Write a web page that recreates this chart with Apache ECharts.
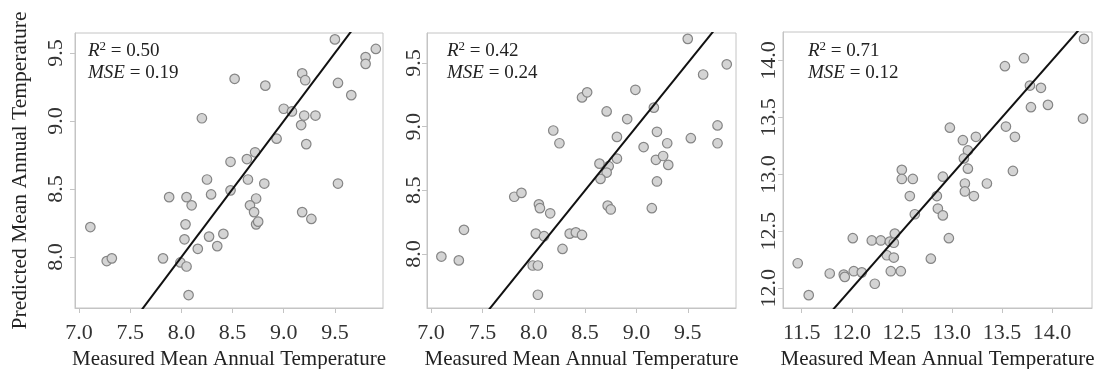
<!DOCTYPE html>
<html>
<head>
<meta charset="utf-8">
<script src="https://cdn.jsdelivr.net/npm/echarts@6/dist/echarts.min.js"></script>
<style>
html,body{margin:0;padding:0;background:#fff;}
#c{width:1097px;height:369px;}
</style>
</head>
<body>
<div id="c"></div>
<script>
// ---------- data ----------
const measured1 = [9.50,9.80,9.80,9.90,8.52,8.82,9.18,9.21,9.53,9.66,9.00,9.08,8.20,9.20,9.31,9.17,8.93,9.22,8.48,8.64,8.72,8.25,8.65,8.81,9.53,8.48,7.88,8.05,8.29,8.73,8.10,8.67,8.71,9.18,9.27,7.11,8.04,8.73,8.75,8.41,8.03,8.27,8.16,8.35,7.82,7.27,7.32,7.99,8.05,8.07];
const predicted1 = [9.60,9.47,9.42,9.53,9.31,9.26,9.35,9.30,9.28,9.19,9.09,9.07,9.02,9.04,9.04,8.97,8.87,8.83,8.70,8.72,8.77,8.57,8.57,8.54,8.54,8.49,8.44,8.44,8.46,8.43,8.38,8.38,8.33,8.33,8.28,8.22,8.24,8.24,8.26,8.17,8.13,8.15,8.06,8.08,7.99,7.97,7.99,7.96,7.93,7.72];

const measured2 = [9.50,9.65,9.88,8.47,8.52,8.99,8.71,9.17,8.91,8.19,8.25,8.81,9.20,9.53,9.79,9.79,9.30,9.07,8.64,8.73,8.81,9.19,9.26,9.31,8.71,8.65,9.20,9.15,7.81,7.88,8.05,8.06,8.16,8.72,8.75,7.32,8.02,8.10,8.35,8.41,8.47,8.28,7.10,7.27,7.99,8.04,8.04];
const predicted2 = [9.69,9.41,9.49,9.23,9.27,9.29,9.12,9.15,9.06,8.97,8.87,8.92,8.96,8.91,9.01,8.87,8.87,8.84,8.71,8.69,8.75,8.74,8.77,8.70,8.64,8.59,8.57,8.36,8.45,8.48,8.39,8.36,8.32,8.38,8.35,8.19,8.16,8.14,8.16,8.17,8.15,8.04,7.98,7.95,7.91,7.91,7.68];

const measured3 = [14.32,13.72,13.53,13.78,13.89,13.79,13.96,14.31,12.98,13.54,13.63,13.11,13.24,13.16,13.12,13.16,13.61,12.91,13.13,13.13,13.22,13.35,12.85,12.58,12.50,12.50,12.61,12.63,12.86,12.91,12.01,12.20,12.29,12.38,12.43,12.42,12.97,12.35,12.42,12.79,11.46,11.78,11.92,11.93,12.02,12.10,12.39,12.49,12.23,11.57];
const predicted3 = [14.19,14.02,13.95,13.78,13.76,13.59,13.61,13.49,13.41,13.42,13.33,13.30,13.33,13.21,13.14,13.05,13.03,12.98,12.92,12.85,12.81,12.92,12.81,12.81,13.04,12.96,12.96,12.65,12.70,12.64,12.44,12.42,12.42,12.41,12.48,12.40,12.44,12.29,12.27,12.26,12.22,12.13,12.12,12.10,12.15,12.14,12.15,12.15,12.04,11.94];

const xRange1 = [6.96, 9.97],  yRange1 = [7.625, 9.647];
const xRange2 = [6.96, 9.97],  yRange2 = [7.576, 9.736];
const xRange3 = [11.313, 14.40], yRange3 = [11.827, 14.25];

const xTicks1 = [7.0, 7.5, 8.0, 8.5, 9.0, 9.5];
const yTicks1 = [8.0, 8.5, 9.0, 9.5];
const xTicks2 = [7.0, 7.5, 8.0, 8.5, 9.0, 9.5];
const yTicks2 = [8.0, 8.5, 9.0, 9.5];
const xTicks3 = [11.5, 12.0, 12.5, 13.0, 13.5, 14.0];
const yTicks3 = [12.0, 12.5, 13.0, 13.5, 14.0];

const r2Values = ['0.50', '0.42', '0.71'];
const mseValues = ['0.19', '0.24', '0.12'];

const xTitle = 'Measured Mean Annual Temperature';
const yTitle = 'Predicted Mean Annual Temperature';

// ---------- chart ----------
const FONT = 'Liberation Serif';
const AXC = '#c4c4c4';
const grids = [
  {left: 75, top: 33, width: 308, height: 275},
  {left: 427, top: 33, width: 309, height: 275},
  {left: 783, top: 32, width: 309, height: 276}
];
const panels = [
  {mx: measured1, py: predicted1, xr: xRange1, yr: yRange1, xt: xTicks1, yt: yTicks1, ym: 8},
  {mx: measured2, py: predicted2, xr: xRange2, yr: yRange2, xt: xTicks2, yt: yTicks2, ym: 2},
  {mx: measured3, py: predicted3, xr: xRange3, yr: yRange3, xt: xTicks3, yt: yTicks3, ym: 3}
];
const fmt = v => Number(v).toFixed(1);

const option = {
  animation: false,
  backgroundColor: '#fff',
  grid: grids.map(g => Object.assign({show: true, borderColor: AXC, borderWidth: 1, backgroundColor: 'transparent', containLabel: false, outerBoundsMode: 'none'}, g)),
  xAxis: panels.map((p, i) => ({
    type: 'value', gridIndex: i, min: p.xr[0], max: p.xr[1],
    name: xTitle, nameLocation: 'middle', nameGap: 40,
    nameTextStyle: {fontFamily: FONT, fontSize: 21, color: '#222'},
    axisLine: {show: true, lineStyle: {color: AXC, width: 1}},
    axisTick: {show: true, length: 5, lineStyle: {color: AXC}, customValues: p.xt},
    axisLabel: {fontFamily: FONT, fontSize: 22, color: '#333', margin: 14, customValues: p.xt, formatter: fmt},
    splitLine: {show: false}
  })),
  yAxis: panels.map((p, i) => ({
    type: 'value', gridIndex: i, min: p.yr[0], max: p.yr[1],
    name: i === 0 ? yTitle : '', nameLocation: 'middle', nameGap: 44,
    nameTextStyle: {fontFamily: FONT, fontSize: 21.5, color: '#222'},
    axisLine: {show: true, lineStyle: {color: AXC, width: 1}},
    axisTick: {show: true, length: 5, lineStyle: {color: AXC}, customValues: p.yt},
    axisLabel: {fontFamily: FONT, fontSize: 22, color: '#333', rotate: 90, margin: p.ym, customValues: p.yt, formatter: fmt},
    splitLine: {show: false}
  })),
  series: [],
  graphic: []
};

panels.forEach((p, i) => {
  const lo = Math.min(p.xr[0], p.yr[0]), hi = Math.max(p.xr[1], p.yr[1]);
  option.series.push({
    type: 'line', xAxisIndex: i, yAxisIndex: i, data: [[lo, lo], [hi, hi]],
    symbol: 'none', clip: true, silent: true, z: 3,
    lineStyle: {color: '#111', width: 2}
  });
  option.series.push({
    type: 'scatter', xAxisIndex: i, yAxisIndex: i,
    data: p.mx.map((x, k) => [x, p.py[k]]),
    symbol: 'circle', symbolSize: 9.5, z: 2,
    itemStyle: {color: '#d4d4d4', borderColor: '#858585', borderWidth: 1.2, opacity: 1}
  });
});

const annX = [88, 447, 808];
annX.forEach((x, i) => {
  option.graphic.push({
    type: 'text', x: x, y: 40, z: 10,
    style: {
      text: '{i|R}{s|2} = ' + r2Values[i] + '\n{i|MSE} = ' + mseValues[i],
      fontFamily: FONT, fontSize: 19, lineHeight: 22, fill: '#222',
      rich: {
        i: {fontStyle: 'italic', fontFamily: FONT, fontSize: 19, lineHeight: 22, fill: '#222'},
        s: {fontFamily: FONT, fontSize: 13, lineHeight: 13, verticalAlign: 'top', fill: '#222'}
      }
    }
  });
});

const chart = echarts.init(document.getElementById('c'), null, {renderer: 'canvas'});
chart.setOption(option);
</script>
</body>
</html>
